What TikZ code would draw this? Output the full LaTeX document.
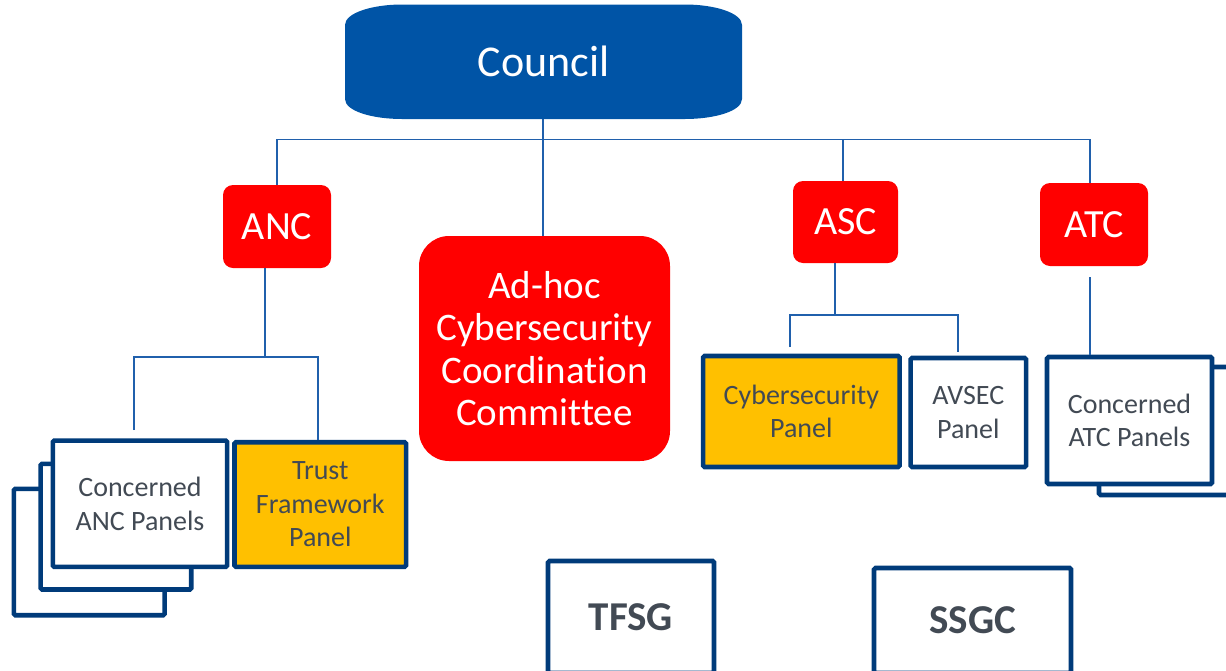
\documentclass[tikz,border=0pt]{standalone}
\usepackage{fontspec}
\setmainfont{Carlito}[Ligatures={NoCommon}]
\definecolor{councilblue}{RGB}{0,84,166}
\definecolor{cred}{RGB}{255,0,0}
\definecolor{cyellow}{RGB}{255,192,0}
\definecolor{navy}{RGB}{0,59,122}
\definecolor{linkblue}{RGB}{32,96,172}
\definecolor{panelgray}{RGB}{66,74,84}
\begin{document}
\begin{tikzpicture}[x=1pt,y=-1pt,
  link/.style={draw=linkblue, line width=1.8pt},
  redbox/.style={fill=cred, rounded corners=10pt, text=white, inner sep=0pt,
    font=\fontsize{40}{44}\selectfont, align=center},
  panel/.style={draw=navy, line width=4.6pt, fill=white, rounded corners=1.5pt,
    text=panelgray, font=\fontsize{28}{33.5}\selectfont, align=center, inner sep=0pt},
  hilite/.style={panel, fill=cyellow},
  groupbox/.style={panel, font=\bfseries\fontsize{41}{45}\selectfont}]
\useasboundingbox (0,0) rectangle (1226,670);
\clip (0,0) rectangle (1226,670);

% Council: wide box with elliptical corners
\fill[councilblue] (345,25) .. controls (345,13) and (372,4.5) .. (402,4.5)
  -- (685,4.5) .. controls (715,4.5) and (742,13) .. (742,25)
  -- (742,99) .. controls (742,111) and (715,119) .. (685,119)
  -- (402,119) .. controls (372,119) and (345,111) .. (345,99) -- cycle;
\node[minimum width=397pt, minimum height=114.5pt, inner sep=0pt, text=white,
  font=\fontsize{44}{48}\selectfont] (council) at (543.5,61.75) {Council};

% Committees
\node[redbox, minimum width=108pt, minimum height=83pt] (anc) at (277,226.5) {ANC};
\node[redbox, minimum width=105pt, minimum height=82pt] (asc) at (845.5,222) {ASC};
\node[redbox, minimum width=108pt, minimum height=83pt] (atc) at (1094,224.5) {ATC};
\node[redbox, rounded corners=30pt, minimum width=251pt, minimum height=225pt,
  font=\fontsize{39}{42.5}\selectfont] (adhoc)
  at (544.5,348.5) {Ad-hoc\\Cybersecurity\\Coordination\\Committee};

% ANC panels (stacked)
\node[panel, minimum width=150.7pt, minimum height=126.4pt] (ancp3) at (89.2,552) {};
\node[panel, minimum width=150.7pt, minimum height=125.6pt] (ancp2) at (115.9,526.7) {};
\node[panel, minimum width=174.3pt, minimum height=126.3pt] (ancp1) at (140,503.7)
  {Concerned\\ANC Panels};
\node[hilite, minimum width=171.7pt, minimum height=124.6pt] (trust) at (320.3,504.5)
  {Trust\\Framework\\Panel};

% ASC panels
\node[hilite, minimum width=196.5pt, minimum height=111pt] (cyber) at (801.3,411.5)
  {Cybersecurity\\Panel};
\node[panel, minimum width=115.5pt, minimum height=109pt] (avsec) at (968.3,412.5)
  {AVSEC\\Panel};

% ATC panels (stacked)
\node[panel, minimum width=141pt, minimum height=128pt] (atcp2) at (1169.5,431) {};
\node[panel, minimum width=165pt, minimum height=127pt] (atcp1) at (1129.5,420.5)
  {Concerned\\ATC Panels};

% Groups
\node[groupbox, minimum width=166pt, minimum height=112pt] (tfsg) at (631,617) {TFSG};
\node[groupbox, minimum width=197pt, minimum height=105pt] (ssgc) at (972.5,620.5) {SSGC};

% Connectors from the Council
\coordinate (bus) at (543,139.5);
\draw[link] (council.south -| bus) -- (adhoc.north -| bus);
\draw[link] (anc.north) |- (bus) -| ([xshift=-4pt]atc.north);
\draw[link] ([xshift=-2.5pt]asc.north) -- ([xshift=-2.5pt]asc.north |- bus);

% ANC branch
\coordinate (ancjoin) at (265,357);
\coordinate (ancleft) at (134,430);
\coordinate (ancright) at (318,357);
\draw[link] (anc.south -| ancjoin) -- (ancjoin);
\draw[link] (ancleft) |- (ancright) -- (ancright |- trust.north);

% ASC branch
\coordinate (ascjoin) at (835,315);
\coordinate (ascleft) at (790,347);
\coordinate (ascright) at (958,352);
\draw[link] (asc.south -| ascjoin) -- (ascjoin);
\draw[link] (ascleft) |- (ascjoin) -| (ascright);

% ATC branch
\coordinate (atcstub) at (1090,277);
\draw[link] (atcstub) -- (atcstub |- atcp1.north);
\end{tikzpicture}
\end{document}
